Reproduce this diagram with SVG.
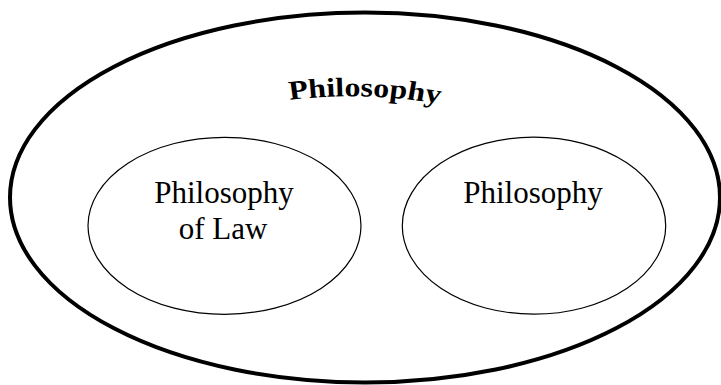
<svg xmlns="http://www.w3.org/2000/svg" width="721" height="385" viewBox="0 0 721 385">
<style>
.outer{fill:none;stroke:#000;stroke-width:4}
.inner{fill:none;stroke:#000;stroke-width:1.2}
.lbl{font-family:"Liberation Serif","Times New Roman",serif;font-size:31px;fill:#000;text-anchor:middle}
.title{font-family:"Liberation Serif","Times New Roman",serif;font-size:27px;font-weight:bold;fill:#000}
</style>
<defs>
<path id="arc" d="M 245 100 Q 310 91 373 104"/>
</defs>
<rect width="721" height="385" fill="#fff"/>
<g id="philosophy-outer">
<ellipse class="outer" cx="365" cy="197.5" rx="355" ry="185"/>
<text class="title" transform="scale(1.18,1)"><textPath href="#arc" startOffset="50%" text-anchor="middle">Philosophy</textPath></text>
</g>
<g id="philosophy-of-law">
<ellipse class="inner" cx="224.5" cy="225.8" rx="136.5" ry="88.5"/>
<text class="lbl" x="224" y="203">Philosophy</text>
<text class="lbl" x="223" y="239">of Law</text>
</g>
<g id="philosophy-inner">
<ellipse class="inner" cx="534" cy="225.7" rx="131.7" ry="88.5"/>
<text class="lbl" x="533" y="203">Philosophy</text>
</g>
<g id="connectors"/>
</svg>
